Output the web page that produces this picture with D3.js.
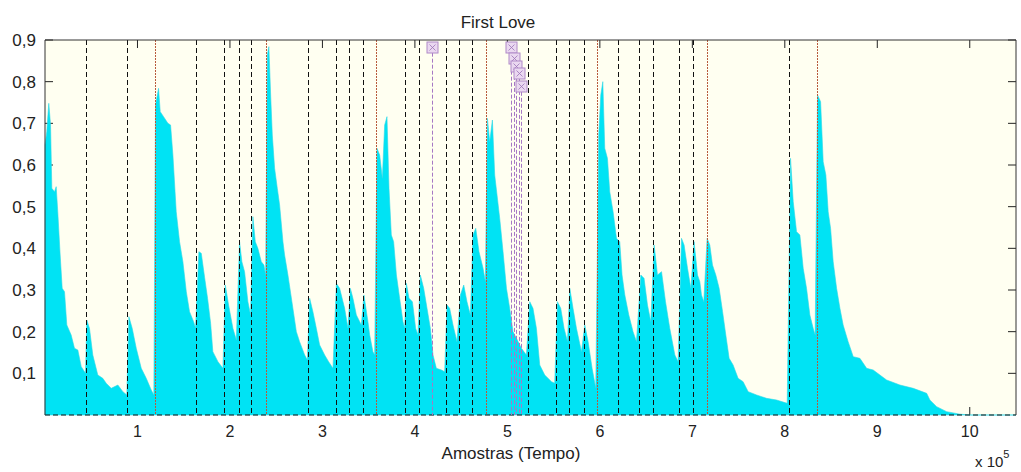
<!DOCTYPE html>
<html>
<head>
<meta charset="utf-8">
<script src="https://cdn.jsdelivr.net/npm/d3@7"></script>
<style>
  body { margin: 0; background: #fff; }
  text { font-family: "Liberation Sans", Arial, sans-serif; fill: #222; }
</style>
</head>
<body>
<div id="chart"></div>
<script>
// envelope of the signal, samples and amplitude
var envSamples = [0, 1900, 4100, 6000, 7400, 10300, 12100, 13800, 16400, 18600, 21100, 23600, 28300, 31900, 35500, 39200, 43800,
  45200, 48100, 51700, 57100, 62500, 66200, 71600, 78800, 84200, 88500,
  90700, 94300, 98700, 104100, 109500, 114900, 117700,
  119500, 122800, 124600, 128200, 132900, 135800, 138300, 141900, 145500, 149100, 152800, 156300, 160700, 162800,
  166400, 169000, 172600, 175800, 179100, 181500, 187000, 192400,
  195000, 198500, 203200, 206900,
  210400, 212900, 215800, 219400, 222300,
  224800, 227400, 230200, 233900, 236700, 238600,
  240400, 242100, 244000, 245800, 248300, 251200, 253700, 257300, 259100, 262700, 267000, 271800, 275300, 280800, 283700,
  286200, 289700, 293400, 297000, 302400, 306700, 311400,
  315100, 318600, 324000, 327600,
  330200, 333000, 336700, 342100,
  344900, 349200, 351100, 354600, 356500,
  359000, 361900, 364800, 367300, 369800, 372000, 374500, 377000, 380000, 383500, 387100, 388900,
  390800, 393600, 397300, 400800, 403300,
  405900, 409500, 413100, 416700, 419600, 423200, 428700, 432200,
  434700, 437600, 441200, 445500,
  449200, 452800, 456300, 460000,
  462800, 465800, 469300, 473700, 476200,
  478400, 480900, 483800, 486300, 488800, 491700, 495300, 499000, 502500, 506100, 509800, 515200, 520600,
  524200, 527700, 531400, 535000, 540400, 547700, 551200,
  554100, 557700, 561300, 565000,
  567500, 571000, 574700, 580100,
  583700, 587300, 591600, 595600,
  598800, 601000, 603200, 605300, 608200, 610700, 614300, 618000,
  621500, 624000, 627000, 631300, 635900, 639600,
  644300, 647800, 651500, 655100,
  658700, 662300, 666700, 671000, 675600, 681100, 684600,
  688300, 691100, 694800, 698400,
  701900, 705600, 708100, 709900, 712400,
  716000, 718900, 721800, 725400, 729000, 732700, 736200, 739800, 744100, 749500, 754900, 760400, 769500, 780300, 791100, 802600,
  806200, 809100, 812700, 816300, 819900, 823500, 827100, 830700, 832800,
  835400, 838700, 841500, 844400, 846900, 849500, 852300, 856000, 859600, 863100, 868500, 874000, 881200, 888500, 895600,
  910100, 924500, 938900, 953400, 956900, 964200, 975000, 989400, 1000200, 1050000];

var envValues = [0.648, 0.68, 0.748, 0.696, 0.544, 0.536, 0.548, 0.488, 0.384, 0.304, 0.296, 0.216, 0.192, 0.16, 0.156, 0.116, 0.10,
  0.228, 0.208, 0.144, 0.096, 0.088, 0.076, 0.064, 0.072, 0.056, 0.048,
  0.236, 0.208, 0.16, 0.112, 0.088, 0.06, 0.048,
  0.744, 0.784, 0.728, 0.716, 0.70, 0.696, 0.624, 0.488, 0.416, 0.368, 0.296, 0.248, 0.224, 0.208,
  0.392, 0.388, 0.33, 0.28, 0.22, 0.152, 0.128, 0.112,
  0.312, 0.264, 0.208, 0.18,
  0.416, 0.368, 0.344, 0.272, 0.24,
  0.476, 0.416, 0.40, 0.368, 0.36, 0.336,
  0.864, 0.884, 0.768, 0.672, 0.592, 0.544, 0.504, 0.416, 0.384, 0.336, 0.272, 0.20, 0.176, 0.144, 0.132,
  0.28, 0.248, 0.208, 0.168, 0.144, 0.128, 0.112,
  0.316, 0.304, 0.256, 0.208,
  0.304, 0.28, 0.24, 0.216,
  0.288, 0.224, 0.192, 0.152, 0.144,
  0.64, 0.624, 0.568, 0.696, 0.716, 0.544, 0.432, 0.416, 0.336, 0.28, 0.224, 0.208,
  0.316, 0.28, 0.272, 0.208, 0.192,
  0.336, 0.304, 0.256, 0.208, 0.144, 0.112, 0.108, 0.104,
  0.264, 0.256, 0.216, 0.176,
  0.288, 0.312, 0.272, 0.24,
  0.432, 0.448, 0.392, 0.352, 0.32,
  0.712, 0.656, 0.708, 0.576, 0.528, 0.472, 0.392, 0.304, 0.256, 0.20, 0.184, 0.16, 0.144,
  0.272, 0.256, 0.208, 0.12, 0.096, 0.08, 0.076,
  0.272, 0.256, 0.208, 0.176,
  0.304, 0.256, 0.208, 0.152,
  0.216, 0.176, 0.112, 0.064,
  0.672, 0.768, 0.80, 0.64, 0.616, 0.536, 0.488, 0.424,
  0.416, 0.336, 0.288, 0.24, 0.20, 0.176,
  0.336, 0.328, 0.264, 0.224,
  0.408, 0.336, 0.344, 0.272, 0.208, 0.144, 0.128,
  0.424, 0.408, 0.352, 0.304,
  0.416, 0.336, 0.32, 0.288, 0.272,
  0.424, 0.408, 0.36, 0.336, 0.304, 0.248, 0.192, 0.136, 0.12, 0.088, 0.08, 0.056, 0.048, 0.04, 0.036, 0.028,
  0.616, 0.512, 0.44, 0.432, 0.352, 0.304, 0.24, 0.208, 0.192,
  0.768, 0.752, 0.608, 0.576, 0.488, 0.448, 0.368, 0.304, 0.256, 0.216, 0.176, 0.14, 0.136, 0.112, 0.108,
  0.084, 0.072, 0.064, 0.052, 0.036, 0.02, 0.008, 0.002, 0, 0];

// detected onsets (black dashed)
var onsetsBlack = [44570, 88900, 163600, 193400, 209300, 223100, 284800, 314300, 328400, 343800,
  389700, 404100, 433300, 447700, 461800, 522300, 552300, 566700, 582600, 619700,
  641800, 657600, 685700, 700900, 804700];
// reference onsets (red)
var onsetsRed = [118500, 238900, 358300, 477300, 597000, 715400, 834400];
// purple stems with square markers
var stemSamples = [418900, 504200, 506900, 509600, 512300, 515000];
var stemValues = [0.884, 0.884, 0.857, 0.838, 0.821, 0.79];

var xTicks = [100000, 200000, 300000, 400000, 500000, 600000, 700000, 800000, 900000, 1000000];
var xTickLabels = ["1", "2", "3", "4", "5", "6", "7", "8", "9", "10"];
var yTicks = [0.1, 0.2, 0.3, 0.4, 0.5, 0.6, 0.7, 0.8, 0.9];
var yTickLabels = ["0,1", "0,2", "0,3", "0,4", "0,5", "0,6", "0,7", "0,8", "0,9"];

var margin = { top: 40, right: 5, bottom: 57, left: 45 };
var width = 1021 - margin.left - margin.right;
var height = 472 - margin.top - margin.bottom;

var svg = d3.select("#chart")
  .append("svg")
  .attr("width", 1021)
  .attr("height", 472);

var g = svg.append("g")
  .attr("transform", "translate(" + margin.left + "," + margin.top + ")");

var x = d3.scaleLinear().domain([0, 1050000]).range([0, width]);
var y = d3.scaleLinear().domain([0, 0.9]).range([height, 0]);

// plot background
g.append("rect")
  .attr("width", width)
  .attr("height", height)
  .attr("fill", "#fffff1");

// ticks sit under the data like matlab's bottom layer
var tickLen = 8;
g.selectAll(".xt-top").data(xTicks).enter().append("line")
  .attr("x1", function(d) { return x(d); })
  .attr("x2", function(d) { return x(d); })
  .attr("y1", 0).attr("y2", tickLen)
  .attr("stroke", "#222");
g.selectAll(".xt-bot").data(xTicks).enter().append("line")
  .attr("x1", function(d) { return x(d); })
  .attr("x2", function(d) { return x(d); })
  .attr("y1", height).attr("y2", height - tickLen)
  .attr("stroke", "#222");
g.selectAll(".yt-left").data(yTicks).enter().append("line")
  .attr("x1", 0).attr("x2", tickLen)
  .attr("y1", function(d) { return y(d); })
  .attr("y2", function(d) { return y(d); })
  .attr("stroke", "#222");
g.selectAll(".yt-right").data(yTicks).enter().append("line")
  .attr("x1", width).attr("x2", width - tickLen)
  .attr("y1", function(d) { return y(d); })
  .attr("y2", function(d) { return y(d); })
  .attr("stroke", "#222");

// signal envelope
var envData = envSamples.map(function(s, i) { return { s: s, v: envValues[i] }; });
var area = d3.area()
  .x(function(d) { return x(d.s); })
  .y0(y(0))
  .y1(function(d) { return y(d.v); });

g.append("path")
  .datum(envData)
  .attr("fill", "#00e3f4")
  .attr("stroke", "#2fd6e6")
  .attr("stroke-width", 0.6)
  .attr("d", area);

// zero line
g.append("line")
  .attr("x1", 0).attr("x2", width)
  .attr("y1", y(0)).attr("y2", y(0))
  .attr("stroke", "#111")
  .attr("stroke-dasharray", "5,3");

// onset markers
g.selectAll(".on-black").data(onsetsBlack).enter().append("line")
  .attr("x1", function(d) { return Math.round(x(d)) + 0.5; })
  .attr("x2", function(d) { return Math.round(x(d)) + 0.5; })
  .attr("y1", 0).attr("y2", height)
  .attr("stroke", "#111")
  .attr("stroke-dasharray", "5,3");

g.selectAll(".on-red").data(onsetsRed).enter().append("line")
  .attr("x1", function(d) { return Math.round(x(d)) + 0.5; })
  .attr("x2", function(d) { return Math.round(x(d)) + 0.5; })
  .attr("y1", 0).attr("y2", height)
  .attr("stroke", "#b85a3c")
  .attr("stroke-dasharray", "2,1");

g.selectAll(".stem").data(stemSamples).enter().append("line")
  .attr("x1", function(d) { return Math.round(x(d)) + 0.5; })
  .attr("x2", function(d) { return Math.round(x(d)) + 0.5; })
  .attr("y1", function(d, i) { return y(stemValues[i]); })
  .attr("y2", height)
  .attr("stroke", "#a678c4")
  .attr("stroke-dasharray", "4,2");

var box = 11;
var marks = g.selectAll(".mk").data(stemSamples).enter().append("g")
  .attr("transform", function(d, i) {
    return "translate(" + (Math.round(x(d)) + 0.5) + "," + (Math.round(y(stemValues[i])) + 0.5) + ")";
  });
marks.append("rect")
  .attr("x", -box / 2).attr("y", -box / 2)
  .attr("width", box).attr("height", box)
  .attr("fill", "#ead8f0")
  .attr("stroke", "#b08ac8");
marks.append("path")
  .attr("d", "M-3,-3L3,3M3,-3L-3,3")
  .attr("stroke", "#9c74b8")
  .attr("stroke-width", 0.8);

// axes box
g.append("path")
  .attr("d", "M0," + height + "V0H" + width + "V" + height)
  .attr("fill", "none")
  .attr("stroke", "#333");

// tick labels
g.selectAll(".xl").data(xTicks).enter().append("text")
  .attr("x", function(d) { return x(d); })
  .attr("y", height + 22)
  .attr("text-anchor", "middle")
  .style("font-size", "16px")
  .text(function(d, i) { return xTickLabels[i]; });

g.selectAll(".yl").data(yTicks).enter().append("text")
  .attr("x", -9)
  .attr("y", function(d) { return y(d); })
  .attr("dy", "0.35em")
  .attr("text-anchor", "end")
  .style("font-size", "17px")
  .text(function(d, i) { return yTickLabels[i]; });

// titles
svg.append("text")
  .attr("x", 498)
  .attr("y", 28)
  .attr("text-anchor", "middle")
  .style("font-size", "17px")
  .text("First Love");

svg.append("text")
  .attr("x", 511)
  .attr("y", 459)
  .attr("text-anchor", "middle")
  .style("font-size", "17px")
  .text("Amostras (Tempo)");

var expo = svg.append("text")
  .attr("x", 975)
  .attr("y", 467)
  .style("font-size", "15px");
expo.append("tspan").text("x 10");
expo.append("tspan")
  .attr("dy", -9)
  .style("font-size", "11px")
  .text("5");
</script>
</body>
</html>
